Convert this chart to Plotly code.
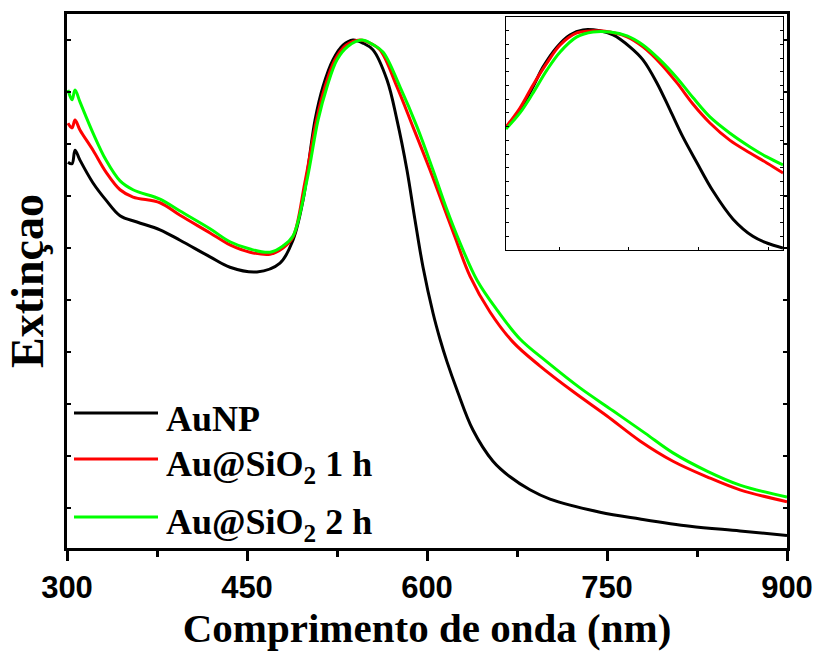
import plotly.graph_objects as go

# ---- main spectra (wavelength nm, normalised extinction) ----
wl_aunp = [300.8, 304.2, 306.7, 310.8, 321.7, 332.5, 344.2, 358.3, 377.5, 394.2, 419.2, 435.8,
           458.3, 477.5, 488.3, 496.7, 506.7, 513.3, 521.7, 530.0, 538.3, 546.7, 555.0, 566.7,
           575.0, 583.3, 590.0, 596.7, 605.0, 610.8, 616.7, 625.0, 638.3, 655.0, 669.2, 685.8,
           702.5, 744.2, 777.5, 819.2, 860.8, 900.0]
ext_aunp = [0.665, 0.662, 0.688, 0.669, 0.625, 0.592, 0.562, 0.550, 0.535, 0.515, 0.483, 0.463,
            0.454, 0.471, 0.515, 0.592, 0.746, 0.810, 0.862, 0.890, 0.900, 0.894, 0.881, 0.823,
            0.746, 0.650, 0.554, 0.463, 0.375, 0.325, 0.281, 0.227, 0.150, 0.090, 0.060, 0.035,
            0.017, -0.008, -0.021, -0.035, -0.044, -0.053]

wl_1h = [300.8, 304.2, 306.7, 310.8, 321.7, 332.5, 344.2, 355.0, 377.5, 394.2, 419.2, 435.8,
         452.5, 469.2, 480.0, 488.3, 498.3, 507.9, 515.0, 523.3, 532.5, 544.2, 552.5, 560.8,
         575.0, 588.3, 602.5, 613.3, 623.3, 635.8, 652.5, 671.7, 694.2, 721.7, 750.0, 777.5,
         805.0, 833.3, 860.8, 900.0]
ext_1h = [0.740, 0.731, 0.746, 0.727, 0.688, 0.646, 0.612, 0.598, 0.587, 0.563, 0.529, 0.506,
          0.492, 0.488, 0.500, 0.521, 0.627, 0.746, 0.810, 0.862, 0.890, 0.900, 0.894, 0.881,
          0.810, 0.733, 0.650, 0.583, 0.521, 0.446, 0.377, 0.319, 0.273, 0.224, 0.177, 0.129,
          0.090, 0.060, 0.035, 0.012]

wl_2h = [300.8, 304.2, 306.7, 310.8, 321.7, 332.5, 344.2, 355.0, 377.5, 394.2, 419.2, 435.8,
         452.5, 469.2, 480.0, 488.3, 500.0, 509.2, 516.7, 525.0, 534.2, 545.8, 554.2, 563.3,
         577.5, 591.7, 605.0, 616.7, 627.5, 641.7, 658.3, 677.5, 700.0, 727.5, 755.0, 781.7,
         805.0, 833.3, 860.8, 900.0]
ext_2h = [0.804, 0.785, 0.804, 0.781, 0.721, 0.669, 0.629, 0.612, 0.594, 0.571, 0.537, 0.512,
          0.498, 0.492, 0.504, 0.523, 0.631, 0.746, 0.810, 0.862, 0.888, 0.900, 0.892, 0.877,
          0.810, 0.733, 0.650, 0.573, 0.510, 0.438, 0.381, 0.325, 0.281, 0.231, 0.187, 0.144,
          0.106, 0.071, 0.044, 0.021]

# ---- inset spectra (own normalisation) ----
wl_in = [506.0, 511.0, 515.7, 519.3, 524.3, 528.9, 533.6, 539.7, 544.4, 550.4, 555.1, 560.1,
         564.8, 569.4, 574.5, 580.2, 587.4, 594.5, 599.5, 605.3]
in_aunp = [0.891, 1.022, 1.190, 1.336, 1.482, 1.569, 1.606, 1.599, 1.569, 1.482, 1.387, 1.219,
           1.022, 0.825, 0.635, 0.430, 0.225, 0.100, 0.051, 0.015]
wl_in2 = [506.0, 511.0, 515.7, 520.7, 525.4, 531.4, 537.2, 543.3, 549.4, 555.1, 561.2, 567.3,
          573.0, 579.1, 586.3, 593.5, 599.5, 605.3]
in_1h = [0.898, 1.036, 1.204, 1.365, 1.496, 1.584, 1.599, 1.591, 1.555, 1.482, 1.365, 1.219,
         1.065, 0.927, 0.800, 0.708, 0.635, 0.562]
in_2h = [0.883, 1.000, 1.146, 1.314, 1.445, 1.555, 1.591, 1.591, 1.562, 1.496, 1.387, 1.255,
         1.112, 0.971, 0.852, 0.752, 0.679, 0.620]

names = ["AuNP", "Au@SiO<sub>2</sub> 1 h", "Au@SiO<sub>2</sub> 2 h"]
colors = ["#000000", "#FF0000", "#00FF00"]

fig = go.Figure()
main = [(wl_aunp, ext_aunp), (wl_1h, ext_1h), (wl_2h, ext_2h)]
for (x, y), c, n in zip(main, colors, names):
    fig.add_trace(go.Scatter(x=x, y=y, mode="lines", name=n, showlegend=False,
                             line=dict(color=c, width=3, shape="spline", smoothing=1.0)))
inset = [(wl_in, in_aunp), (wl_in2, in_1h), (wl_in2, in_2h)]
for (x, y), c, n in zip(inset, colors, names):
    fig.add_trace(go.Scatter(x=x, y=y, mode="lines", name=n, showlegend=False,
                             xaxis="x2", yaxis="y2",
                             line=dict(color=c, width=3, shape="spline", smoothing=1.0)))

L, R, T, B = 67, 31, 14, 103
W, H = 818, 651
pw, ph = W - L - R, H - T - B

fig.update_layout(
    width=W, height=H, margin=dict(l=L, r=R, t=T, b=B),
    plot_bgcolor="white", paper_bgcolor="white",
    xaxis=dict(range=[300, 900], tickvals=[300, 450, 600, 750, 900], automargin=False,
               ticks="outside", ticklen=10, tickwidth=3, tickcolor="black",
               minor=dict(ticks="outside", ticklen=6, tickwidth=3, tickcolor="black",
                          tickvals=[375, 525, 675, 825]),
               showline=True, linewidth=3, linecolor="black", mirror=True,
               showgrid=False, zeroline=False,
               tickfont=dict(family="Liberation Sans", size=31, color="black", weight="bold"),
               title=dict(text="<b>Comprimento de onda (nm)</b>", standoff=4,
                          font=dict(family="Liberation Serif", size=41, color="black"))),
    yaxis=dict(range=[-0.0769, 0.95], dtick=0.1, tick0=0, automargin=False,
               ticks="inside", ticklen=4, tickwidth=2, tickcolor="black",
               showticklabels=False, showline=True, linewidth=3, linecolor="black",
               mirror="ticks", showgrid=False, zeroline=False,
               title=dict(text="<b>Extinçao</b>", standoff=6,
                          font=dict(family="Liberation Serif", size=46, color="black"))),
    xaxis2=dict(domain=[(506 - L) / pw, (783 - L) / pw], anchor="y2", automargin=False,
                range=[506, 605.3], tickvals=[525, 550, 575, 600],
                ticks="inside", ticklen=3, tickwidth=1, tickcolor="black",
                showticklabels=False, showline=True, linewidth=1, linecolor="black",
                mirror=True, showgrid=False, zeroline=False),
    yaxis2=dict(domain=[(H - B - 250) / ph, (H - B - 17) / ph], anchor="x2", automargin=False,
                range=[0, 1.70], dtick=0.1, tick0=0,
                ticks="inside", ticklen=3, tickwidth=1, tickcolor="black",
                showticklabels=False, showline=True, linewidth=1, linecolor="black",
                mirror="ticks", showgrid=False, zeroline=False),
)

# legend drawn as line samples + labels (paper coordinates from pixels)
def px(x):
    return (x - L) / pw

def py(y):
    return (H - B - y) / ph

leg_y = [413, 459, 517]
txt_y = [419, 466, 524]
for c, n, ly, ty in zip(colors, names, leg_y, txt_y):
    fig.add_shape(type="line", xref="paper", yref="paper", x0=px(74), x1=px(158),
                  y0=py(ly), y1=py(ly), line=dict(color=c, width=3))
    fig.add_annotation(xref="paper", yref="paper", x=px(164), y=py(ty), xanchor="left",
                       yanchor="middle", showarrow=False, text="<b>" + n + "</b>",
                       font=dict(family="Liberation Serif", size=36, color="black"))

fig.write_html("out.html")
